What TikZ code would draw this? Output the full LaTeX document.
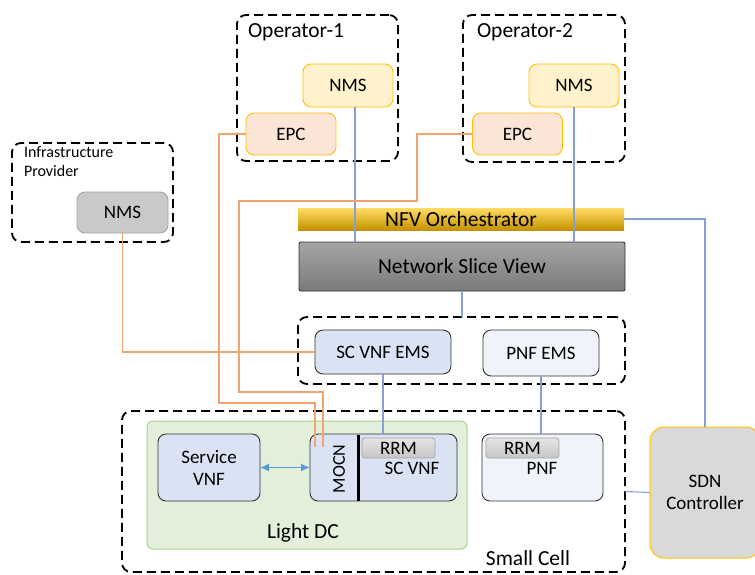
\documentclass[tikz,border=0pt]{standalone}
\usepackage{fontspec}
\setmainfont{Carlito}
\usetikzlibrary{arrows.meta}
\definecolor{gold}{RGB}{255,192,0}
\definecolor{nmsfill}{RGB}{255,242,204}
\definecolor{epcfill}{RGB}{251,229,214}
\definecolor{grayfill}{RGB}{201,201,201}
\definecolor{grayedge}{RGB}{166,166,166}
\definecolor{bluefill}{RGB}{218,227,243}
\definecolor{palefill}{RGB}{240,243,250}
\definecolor{greenfill}{RGB}{226,239,218}
\definecolor{greenedge}{RGB}{169,209,142}
\definecolor{sdnfill}{RGB}{217,217,217}
\definecolor{bline}{RGB}{132,160,214}
\definecolor{oline}{RGB}{244,163,110}
\definecolor{arrowblue}{RGB}{91,155,213}
\definecolor{darkedge}{RGB}{50,50,50}
\begin{document}
\begin{tikzpicture}[x=1pt,y=-1pt,
  font=\fontsize{19}{22}\selectfont,
  every node/.style={inner sep=0pt, outer sep=0pt},
  bigtext/.style={font=\fontsize{21.5}{24}\selectfont},
  dbox/.style={draw=black, line width=1.8pt, dash pattern=on 9pt off 5pt, rounded corners=9pt},
  rbox/.style={rounded corners=8pt, line width=0.9pt, align=center},
  nmsbox/.style={rbox, draw=gold, fill=nmsfill, minimum width=90pt, minimum height=43pt},
  epcbox/.style={rbox, draw=gold, fill=epcfill, minimum width=90pt, minimum height=42pt},
  vnfbox/.style={rbox, draw=darkedge, fill=bluefill},
  pnfbox/.style={rbox, draw=darkedge, fill=palefill},
  rrmbox/.style={rounded corners=3pt, draw=grayedge, line width=0.8pt, top color=gray!20, bottom color=gray!45, minimum width=73pt, minimum height=20pt},
  bluewire/.style={draw=bline, line width=1.1pt},
  orangewire/.style={draw=oline, line width=1.2pt},
  lbl/.style={align=left}
]
\useasboundingbox (0,0) rectangle (755,574);

% dashed domain boxes
\node[dbox, minimum width=161pt, minimum height=146pt] (op1) at (317.5,88) {};
\node[dbox, minimum width=162pt, minimum height=147pt] (op2) at (544,88.5) {};
\node[dbox, minimum width=161pt, minimum height=99pt] (infra) at (92.5,192.5) {};
\node[dbox, minimum width=327pt, minimum height=67pt] (emsbox) at (461.5,350.5) {};
\node[dbox, minimum width=503pt, minimum height=161pt] (smallcell) at (373.5,491.5) {};

\node[anchor=west, bigtext] (op1lbl) at (248,32) {Operator-1};
\node[anchor=west, bigtext] (op2lbl) at (477,32) {Operator-2};
\node[anchor=north west, lbl, font=\fontsize{16}{18.5}\selectfont] (infralbl) at (24,147) {Infrastructure\\Provider};

% operator nodes
\node[nmsbox] (nms1) at (348,85.5) {NMS};
\node[epcbox] (epc1) at (291,134) {EPC};
\node[nmsbox] (nms2) at (574,85.5) {NMS};
\node[epcbox] (epc2) at (517.5,134) {EPC};
\node[rbox, draw=grayedge, fill=grayfill, minimum width=91pt, minimum height=41pt] (nmsI) at (122.5,212.5) {NMS};

% orchestration layers
\node[bigtext, top color={rgb,255:red,255;green,220;blue,100}, middle color={rgb,255:red,255;green,195;blue,10}, bottom color={rgb,255:red,196;green,146;blue,0}, minimum width=326pt, minimum height=22pt] (nfvo) at (461,219) {NFV Orchestrator};
\node[bigtext, draw=darkedge, line width=0.9pt, rounded corners=2pt, top color={rgb,255:red,165;green,165;blue,165}, bottom color={rgb,255:red,122;green,122;blue,122}, minimum width=326pt, minimum height=49pt] (nsv) at (462,266.5) {Network Slice View};

% EMS
\node[vnfbox, minimum width=136pt, minimum height=44pt] (scems) at (383,352) {SC VNF EMS};
\node[pnfbox, minimum width=116pt, minimum height=46pt] (pnfems) at (541,353) {PNF EMS};

% Light DC
\node[rounded corners=6pt, draw=greenedge, fill=greenfill, line width=1pt, minimum width=320pt, minimum height=128pt] (lightdc) at (307,485) {};
\node[bigtext] (lightdclbl) at (303,533) {Light DC};
\node[bigtext] (smallcelllbl) at (528,558) {Small Cell};

\node[vnfbox, minimum width=102pt, minimum height=67pt] (svnf) at (209,467.5) {Service\\VNF};
\node[vnfbox, minimum width=147pt, minimum height=67pt] (scvnf) at (383.5,467.5) {};
\draw[line width=3pt] (358,434.5) -- (358,500.5);
\node[rotate=90, font=\fontsize{18}{20}\selectfont] (mocn) at (339,469) {MOCN};
\node[rrmbox] (rrm1) at (398.5,448) {RRM};
\node (scvnflbl) at (412,468) {SC VNF};

\node[pnfbox, minimum width=121pt, minimum height=67pt] (pnf) at (542.5,467.5) {};
\node[rrmbox] (rrm2) at (522.5,448) {RRM};
\node (pnflbl) at (542,468) {PNF};

% SDN controller
\node[rounded corners=14pt, draw=gold, fill=sdnfill, line width=1pt, minimum width=110pt, minimum height=131pt, align=center] (sdn) at (705,492.5) {SDN\\Controller};

% blue wires
\draw[bluewire] ([xshift=7pt]nms1.south) -- ([xshift=7pt]nms1.south |- nsv.north);
\draw[bluewire] (nms2.south) -- (nms2.south |- nsv.north);
\draw[bluewire] (nfvo.east) -| (sdn.north);
\draw[bluewire] (nsv.south) -- (nsv.south |- emsbox.north);
\draw[bluewire] (scems.south) -- (scems.south |- scvnf.north);
\draw[bluewire] (pnfems.south) -- (pnfems.south |- pnf.north);
\draw[bluewire] (smallcell.east) -- (sdn.west);
\draw[draw=arrowblue, line width=1.5pt, {Latex[length=9pt,width=8pt]}-{Latex[length=9pt,width=8pt]}] (svnf.east) -- (scvnf.west);

% orange wires
\coordinate (m1) at (315,447);
\coordinate (m2) at (323,447);
\draw[orangewire] (nmsI.south) |- (scems.west);
\draw[orangewire] (epc1.west) -| (219,403) -| (m1);
\draw[orangewire] (epc2.west) -| (417,201) -| (239,392) -| (m2);
\end{tikzpicture}
\end{document}
